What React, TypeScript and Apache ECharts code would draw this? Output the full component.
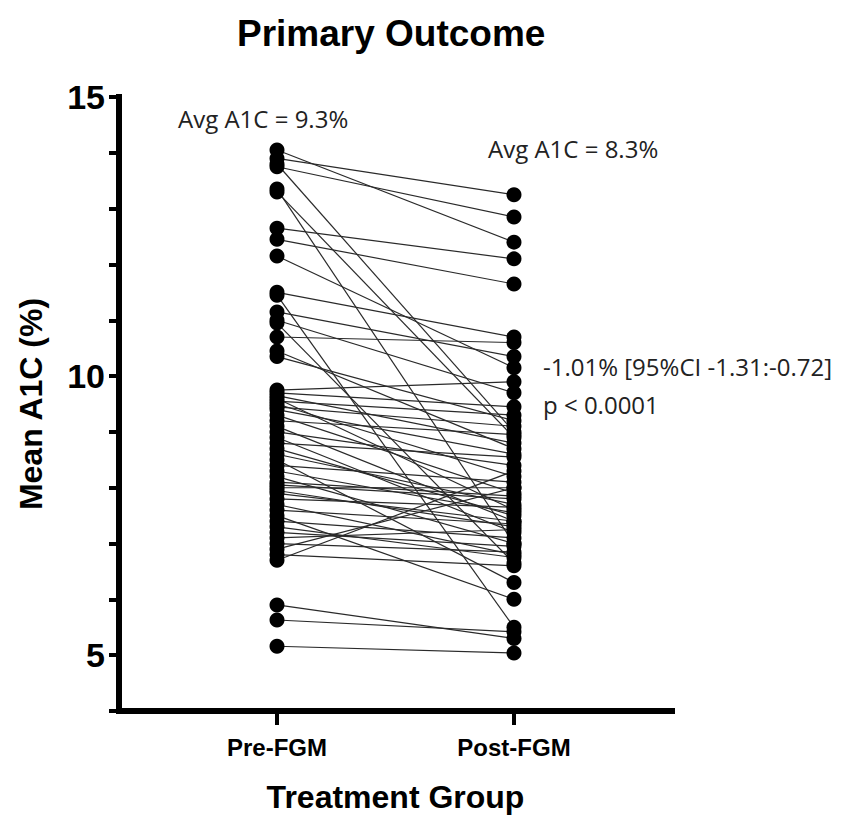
import React, { useEffect, useRef } from 'react';
import * as echarts from 'echarts';

const categories = ['', '', 'Pre-FGM', '', '', 'Post-FGM', '', ''];
const preIndex = 2;
const postIndex = 5;

const preValues = [
  14.05, 13.9, 13.75, 13.8, 13.35, 13.3, 12.65, 12.45, 12.15, 11.5, 11.45, 11.15, 11.0, 10.95, 10.7, 10.45, 10.35,
  9.75, 9.7, 9.65, 9.6, 9.55, 9.5, 9.45, 9.4, 9.3, 9.2, 9.1, 9.0, 8.9, 8.8, 8.7, 8.6, 8.5, 8.4, 8.3, 8.2, 8.1,
  8.05, 8.0, 7.95, 7.9, 7.8, 7.7, 7.6, 7.5, 7.4, 7.3, 7.2, 7.1, 7.0, 6.9, 6.8, 6.7, 5.9, 5.63, 5.16,
];
const postValues = [
  12.4, 13.25, 12.85, 9.0, 7.0, 8.9, 12.1, 11.65, 10.15, 10.7, 5.5, 10.35, 9.7, 6.65, 10.6, 8.7, 9.2,
  9.9, 9.45, 8.8, 7.6, 9.3, 8.2, 9.1, 8.6, 7.9, 8.95, 7.4, 8.4, 7.2, 8.55, 7.5, 7.7, 6.3, 8.1, 7.55, 7.0, 7.85,
  7.8, 8.0, 7.3, 7.4, 7.65, 6.8, 7.35, 6.0, 7.1, 6.75, 6.95, 7.25, 6.85, 8.0, 6.6, 8.3, 5.3, 5.42, 5.04,
];
const yLabelTicks = [5, 10, 15];

const titleText = 'Primary Outcome';
const yName = 'Mean A1C (%)';
const xName = 'Treatment Group';
const avgPre = 'Avg A1C = 9.3%';
const avgPost = 'Avg A1C = 8.3%';
const diffText = '-1.01% [95%CI -1.31:-0.72]';
const pText = 'p < 0.0001';

export default function App() {
  const ref = useRef<HTMLDivElement>(null);
  useEffect(() => {
    if (!ref.current) return;
    const chart = echarts.init(ref.current, null, { renderer: 'svg' });
    const bold = 'Liberation Sans';
    const pairSeries = preValues.map((pre, i) => ({
      type: 'line',
      data: [[preIndex, pre], [postIndex, postValues[i]]],
      symbol: 'none',
      showSymbol: false,
      silent: true,
      z: 2,
      lineStyle: { color: '#2a2a2a', width: 1.2, opacity: 1 },
    }));
    const dotStyle = { color: '#000', opacity: 1 };
    const option: any = {
      animation: false,
      title: {
        text: titleText,
        left: 232,
        top: 10,
        textStyle: { fontFamily: bold, fontWeight: 'bold', fontSize: 37, color: '#000' },
      },
      grid: { left: 119, right: 172, top: 97, bottom: 106, containLabel: false },
      xAxis: {
        type: 'category',
        data: categories,
        boundaryGap: false,
        axisLine: { show: true, lineStyle: { color: '#000', width: 6, cap: 'square' } },
        axisTick: {
          show: true,
          length: 14,
          interval: (_i: number, v: string) => v !== '',
          lineStyle: { color: '#000', width: 4 },
        },
        axisLabel: {
          interval: (_i: number, v: string) => v !== '',
          fontFamily: bold,
          fontWeight: 'bold',
          fontSize: 24,
          color: '#000',
          margin: 24,
        },
        splitLine: { show: false },
        name: xName,
        nameLocation: 'middle',
        nameGap: 70,
        nameTextStyle: { fontFamily: bold, fontWeight: 'bold', fontSize: 32, color: '#000' },
      },
      yAxis: {
        type: 'value',
        min: 4,
        max: 15,
        interval: 1,
        axisLine: { show: true, lineStyle: { color: '#000', width: 6, cap: 'square' } },
        axisTick: { show: true, length: 10, lineStyle: { color: '#000', width: 4 } },
        axisLabel: {
          formatter: (v: number) => (yLabelTicks.includes(v) ? String(v) : ''),
          fontFamily: bold,
          fontWeight: 'bold',
          fontSize: 34,
          color: '#000',
          margin: 14,
        },
        splitLine: { show: false },
        name: yName,
        nameLocation: 'middle',
        nameGap: 72,
        nameRotate: 90,
        nameTextStyle: { fontFamily: bold, fontWeight: 'bold', fontSize: 32, color: '#000' },
      },
      graphic: [
        { type: 'text', left: 178, top: 106, style: { text: avgPre, fontFamily: 'Open Sans', fontSize: 24, fill: '#222' } },
        { type: 'text', left: 488, top: 136, style: { text: avgPost, fontFamily: 'Open Sans', fontSize: 24, fill: '#222' } },
        { type: 'text', left: 543, top: 354, style: { text: diffText, fontFamily: 'Open Sans', fontSize: 24, fill: '#222' } },
        { type: 'text', left: 543, top: 392, style: { text: pText, fontFamily: 'Open Sans', fontSize: 24, fill: '#222' } },
      ],
      series: [
        ...pairSeries,
        {
          type: 'scatter',
          data: preValues.map((v) => [preIndex, v]),
          symbol: 'circle',
          symbolSize: 15,
          itemStyle: dotStyle,
          z: 5,
          silent: true,
        },
        {
          type: 'scatter',
          data: postValues.map((v) => [postIndex, v]),
          symbol: 'circle',
          symbolSize: 15,
          itemStyle: dotStyle,
          z: 5,
          silent: true,
        },
      ],
    };
    chart.setOption(option);
    return () => chart.dispose();
  }, []);
  return <div ref={ref} style={{ position: 'absolute', left: 0, top: 0, width: 844, height: 818 }} />;
}
